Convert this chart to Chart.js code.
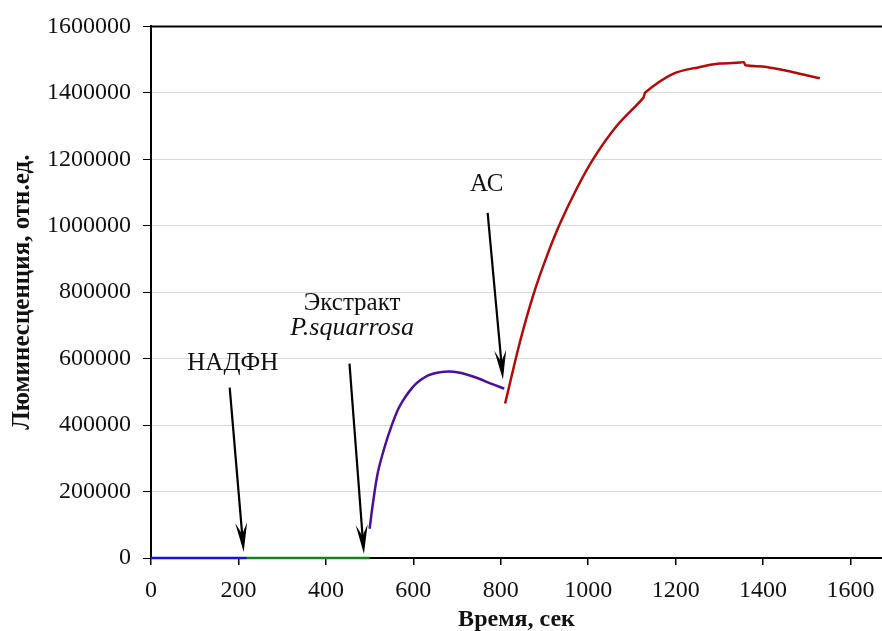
<!DOCTYPE html>
<html>
<head>
<meta charset="utf-8">
<script src="https://cdn.jsdelivr.net/npm/chart.js@4"></script>
<style>
  html, body { margin: 0; padding: 0; background: #fff; }
  #wrap { width: 882px; height: 631px; }
</style>
</head>
<body>
<div id="wrap"><canvas id="myChart" width="882" height="631"></canvas></div>
<script>
// time, s and luminescence values
const blueX = [0, 218];
const blueY = [0, 0];
const greenX = [218, 500];
const greenY = [0, 0];
const purpleX = [500, 508, 519, 535, 550, 565, 577, 590, 604, 619, 634, 649, 665, 683, 700, 720, 748, 779, 808];
const purpleY = [88000, 168000, 258000, 337000, 397000, 447000, 475000, 500000, 522000, 538000, 550000, 556000, 560000, 561000, 559000, 553000, 541000, 524000, 510000];
const redX = [810, 844, 874, 905, 935, 973, 1011, 1065, 1126, 1131, 1194, 1256, 1301, 1347, 1356, 1360, 1408, 1469, 1530];
const redY = [465000, 651000, 790000, 907000, 1005000, 1110000, 1200000, 1300000, 1385000, 1402000, 1457000, 1478000, 1488000, 1491000, 1492000, 1483000, 1478000, 1462000, 1444000];

// annotation labels and arrows (data coordinates)
const noteText = ['НАДФН', 'Экстракт', 'P.squarrosa', 'АС'];
const noteX = [187, 460, 460, 768];
const noteY = [585000, 766000, 692000, 1124000];
const noteItalic = [false, false, true, false];
const arrowFromX = [180, 454, 770];
const arrowFromY = [513000, 585000, 1039000];
const arrowToX = [212, 487, 805];
const arrowToY = [18000, 12000, 537000];

function pts(xs, ys) {
  return xs.map((x, i) => ({x: x, y: ys[i]}));
}

const serif = '"Liberation Serif", "Times New Roman", serif';

const notes = {
  id: 'notes',
  afterDatasetsDraw(chart) {
    const ctx = chart.ctx;
    const xs = chart.scales.x, ys = chart.scales.y;
    const a = chart.chartArea;
    ctx.save();
    // top frame line
    ctx.strokeStyle = '#000';
    ctx.lineWidth = 2;
    ctx.beginPath();
    ctx.moveTo(a.left, a.top);
    ctx.lineTo(a.right, a.top);
    ctx.stroke();

    ctx.fillStyle = '#111';
    ctx.textAlign = 'center';
    ctx.textBaseline = 'middle';
    noteText.forEach((t, i) => {
      ctx.font = (noteItalic[i] ? 'italic 26px ' : '25px ') + serif;
      ctx.fillText(t, xs.getPixelForValue(noteX[i]), ys.getPixelForValue(noteY[i]));
    });

    ctx.strokeStyle = '#000';
    ctx.fillStyle = '#000';
    arrowFromX.forEach((fx, i) => {
      const x1 = xs.getPixelForValue(fx), y1 = ys.getPixelForValue(arrowFromY[i]);
      const x2 = xs.getPixelForValue(arrowToX[i]), y2 = ys.getPixelForValue(arrowToY[i]);
      const ang = Math.atan2(y2 - y1, x2 - x1);
      ctx.lineWidth = 2.2;
      ctx.beginPath();
      ctx.moveTo(x1, y1);
      ctx.lineTo(x2 - 10 * Math.cos(ang), y2 - 10 * Math.sin(ang));
      ctx.stroke();
      const len = 30, w = 0.2;
      ctx.beginPath();
      ctx.moveTo(x2, y2);
      ctx.lineTo(x2 - len * Math.cos(ang - w), y2 - len * Math.sin(ang - w));
      ctx.lineTo(x2 - 18 * Math.cos(ang), y2 - 18 * Math.sin(ang));
      ctx.lineTo(x2 - len * Math.cos(ang + w), y2 - len * Math.sin(ang + w));
      ctx.closePath();
      ctx.fill();
    });
    ctx.restore();
  }
};

const ctx = document.getElementById('myChart').getContext('2d');

const line = (data, color) => ({
  data: data,
  borderColor: color,
  backgroundColor: color,
  borderWidth: 2.5,
  pointRadius: 0,
  showLine: true,
  tension: 0.35,
  clip: false
});

const myChart = new Chart(ctx, {
  type: 'scatter',
  data: {
    datasets: [
      line(pts(blueX, blueY), '#1414d2'),
      line(pts(greenX, greenY), '#13861a'),
      line(pts(purpleX, purpleY), '#4a109c'),
      line(pts(redX, redY), '#b00a0a')
    ]
  },
  options: {
    responsive: false,
    animation: false,
    layout: { padding: { top: 22, right: 0, left: 0, bottom: 0 } },
    plugins: { legend: { display: false }, tooltip: { enabled: false } },
    scales: {
      x: {
        type: 'linear',
        min: 0,
        max: 1672,
        afterFit(s) { s.height = 73; s.paddingRight = 0; },
        ticks: {
          stepSize: 200,
          includeBounds: false,
          maxRotation: 0,
          padding: 11,
          color: '#111',
          font: { family: serif, size: 24 },
          callback: v => String(v)
        },
        grid: { drawOnChartArea: false, tickColor: '#000', tickLength: 7, lineWidth: 1.5 },
        border: { color: '#000', width: 2 },
        title: {
          display: true,
          text: 'Время, сек',
          color: '#111',
          font: { family: serif, size: 24, weight: 'bold', lineHeight: 1 },
          padding: { top: 0, bottom: -1 }
        }
      },
      y: {
        min: 0,
        max: 1600000,
        afterFit(s) { s.width = 151; },
        ticks: {
          stepSize: 200000,
          padding: 12,
          color: '#111',
          font: { family: serif, size: 24 },
          callback: v => String(v)
        },
        grid: { color: '#d9d9d9', lineWidth: 1, tickColor: '#000', tickLength: 8 },
        border: { color: '#000', width: 2 },
        title: {
          display: true,
          text: 'Люминесценция, отн.ед.',
          color: '#111',
          font: { family: serif, size: 25, weight: 'bold', lineHeight: 1 },
          padding: { top: 10, bottom: 0 }
        }
      }
    }
  },
  plugins: [notes]
});
</script>
</body>
</html>
